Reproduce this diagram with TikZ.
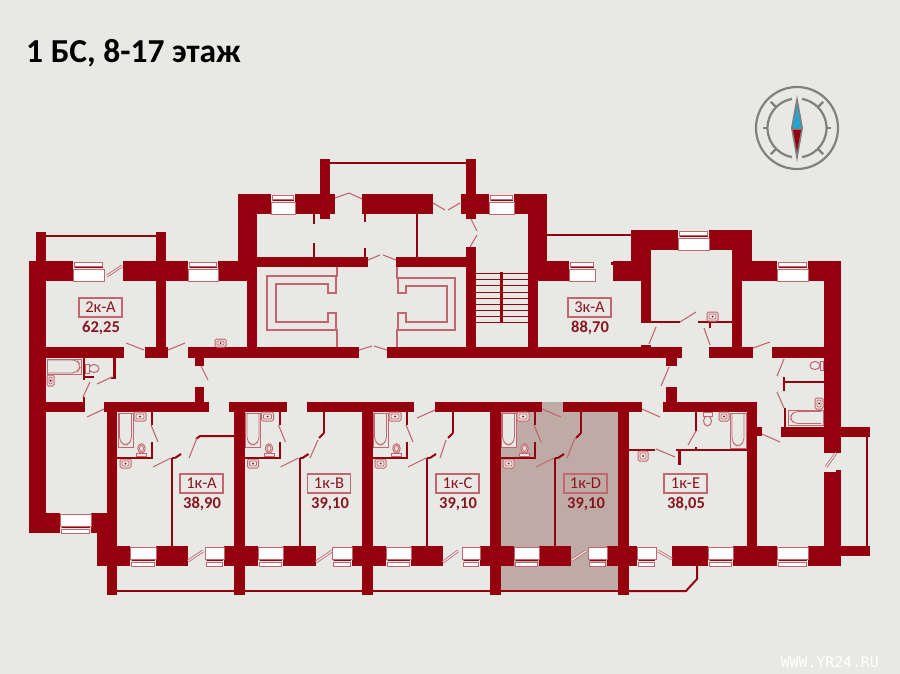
\documentclass[tikz,border=0pt]{standalone}
\usepackage{fontspec}
\setmainfont{Carlito}
\newfontfamily\wmfont{DejaVu Sans Mono}
\definecolor{bgc}{HTML}{E8E9E4}
\definecolor{wallc}{HTML}{95000F}
\definecolor{pinkc}{HTML}{C4666F}
\definecolor{tintc}{HTML}{BEABA5}
\definecolor{txtc}{HTML}{8A1520}
\definecolor{compg}{HTML}{808080}
\definecolor{compb}{HTML}{1FA5D5}
\tikzset{
  doorleaf/.style={draw=pinkc,line width=1.1pt},
  balcdoor/.style={draw=pinkc,line width=.8pt,double=bgc,double distance=1.2pt},
  fixt/.style={draw=pinkc,line width=1pt,fill=bgc},
  fixtd/.style={draw=wallc,line width=.9pt},
  aptlabel/.style={draw=pinkc,line width=1.2pt,minimum width=43pt,minimum height=19pt,inner sep=0pt,text=txtc,font=\fontsize{16.5}{17}\selectfont},
  aptarea/.style={text=txtc,inner sep=0pt,font=\fontsize{16.5}{17}\selectfont\bfseries},
}
\newcommand{\wl}[4]{\fill[wallc] (#1,#2) rectangle (#3,#4);}
\newcommand{\dor}[4]{\draw[doorleaf] (#1,#2) -- (#3,#4);}
\newcommand{\bdor}[4]{\draw[balcdoor] (#1,#2) -- (#3,#4);}
\newcommand{\wintop}[3]{%
  \draw[pinkc,line width=1pt,fill=white] ({#1+1.5},{#3+1.5}) rectangle ({#2-1.5},{#3+5.5});
  \draw[pinkc,line width=1pt,fill=white] (#1,{#3+8}) rectangle (#2,{#3+20});
  \draw[wallc,line width=1pt] ({#1+1.5},{#3+6.5}) -- ({#2-1.5},{#3+6.5});}
\newcommand{\winbot}[3]{%
  \draw[pinkc,line width=1pt,fill=white] (#1,{#3}) rectangle (#2,{#3+12});
  \draw[pinkc,line width=1pt,fill=white] ({#1+1.5},{#3+15}) rectangle ({#2-1.5},{#3+19});
  \draw[wallc,line width=1pt] ({#1+1.5},{#3+13.5}) -- ({#2-1.5},{#3+13.5});}
\newcommand{\sinkicon}[4]{%
  \draw[fixt,rounded corners=1.5pt] (#1,#2) rectangle (#3,#4);
  \draw[pinkc,line width=.8pt,rounded corners=1pt] ({#1+2},{#2+2}) rectangle ({#3-2},{#4-2});
  \fill[wallc] ({(#1+#3)/2},{(#2+#4)/2}) circle (1pt);}
\newcommand{\toiletv}[2]{% x centre, y top (cistern at bottom)
  \draw[fixt] (#1,{#2+5.5}) ellipse (3.7pt and 4.7pt);
  \draw[pinkc,line width=.8pt] (#1,{#2+5.5}) ellipse (2pt and 3pt);
  \draw[fixt] ({#1-5},{#2+10.5}) rectangle ({#1+5},{#2+13.5});}
\begin{document}
\begin{tikzpicture}[x=1pt,y=-1pt]
\useasboundingbox (0,0) rectangle (900,674);
\fill[bgc] (0,0) rectangle (900,674);
\node[anchor=west,inner sep=0pt,font=\fontsize{33.5}{34}\selectfont\bfseries,text=black] (title) at (26,53) {1 БС, 8-17 этаж};
\node[anchor=east,inner sep=0pt,text=white,font=\wmfont\fontsize{14.8}{15}\selectfont] (wm) at (879,662) {WWW.YR24.RU};
% compass
\draw[compg,line width=2.2pt] (797,128) circle (41);
\draw[compg,line width=2.2pt] (797,128) +(80:29.5) arc[start angle=80,end angle=-80,radius=29.5];
\draw[compg,line width=2.2pt] (797,128) +(100:29.5) arc[start angle=100,end angle=260,radius=29.5];
\foreach \a in {45,135,225,315} \draw[compg,line width=2.2pt] (797,128) +(\a:29.5) -- +(\a:37);
\draw[compg,line width=2.2pt] (763,128) -- (768,128) (826,128) -- (831,128);
\fill[compg] (797,95) -- (803,128) -- (797,162) -- (791,128) -- cycle;
\fill[compb] (797,106) -- (801,128) -- (793,128) -- cycle;
\fill[wallc] (797,152) -- (801,130) -- (793,130) -- cycle;
% highlighted flat
\fill[tintc] (501,402) rectangle (618,590);
% balcony rails
\wl{46}{235}{156}{237} \wl{330}{162}{466}{164} \wl{547}{234}{631}{236}
\wl{117}{590}{629}{592}
\wl{866}{437}{868}{546}
\draw[wallc,line width=2pt] (697,566) -- (697,579) -- (686,591) -- (629,591);
% upper walls
\wl{36}{232}{46}{261} \wl{156}{232}{166}{347} \wl{29}{261}{46}{533}
\wl{29}{261}{73}{281} \wl{123}{261}{188}{281} \wl{218}{261}{247}{281}
\wl{238}{194}{257}{281} \wl{247}{261}{257}{347}
\wl{238}{194}{271}{214} \wl{295}{194}{335}{214} \wl{362}{194}{433}{214}
\wl{461}{194}{489}{214} \wl{514}{194}{547}{214}
\wl{320}{159}{330}{219} \wl{466}{159}{476}{219}
\wl{528}{194}{547}{261} \wl{528}{261}{569}{281} \wl{528}{261}{538}{347}
\wl{257}{257}{368}{267} \wl{396}{257}{466}{267} \wl{466}{247}{476}{347}
\wl{416}{214}{418}{257}
\wl{313}{214}{315}{224} \wl{313}{243}{315}{257}
\wl{364}{214}{366}{222} \wl{364}{248}{366}{257}
% corridor top wall
\wl{46}{347}{124}{358} \wl{145}{347}{168}{358} \wl{188}{347}{359}{358}
\wl{387}{347}{682}{358} \wl{709}{347}{753}{358} \wl{772}{347}{824}{358}
\wl{195}{358}{204}{366} \wl{666}{358}{677}{366} \wl{641}{345}{651}{347}
% right upper
\wl{631}{230}{678}{250} \wl{709}{230}{752}{250}
\wl{631}{230}{651}{261} \wl{641}{250}{651}{323} \wl{613}{261}{641}{281} \wl{611}{262}{613}{265}
\wl{732}{230}{742}{358} \wl{732}{250}{752}{261} \wl{732}{261}{777}{281} \wl{808}{261}{841}{281}
\wl{824}{261}{841}{453} \wl{824}{472}{841}{546} \wl{836}{470}{841}{472}
\wl{651}{321}{680}{323} \wl{698}{321}{732}{323} \wl{709}{323}{711}{328}
\wl{781}{427}{870}{437} \wl{841}{546}{870}{556}
% lower corridor wall
\wl{46}{402}{85}{412} \wl{104}{402}{209}{412} \wl{229}{402}{287}{412}
\wl{307}{402}{414}{412} \wl{435}{402}{542}{412} \wl{563}{402}{642}{412} \wl{663}{402}{757}{412}
\wl{195}{387}{204}{402} \wl{666}{387}{677}{402}
\wl{83}{397}{85}{402}
% left bathroom
\wl{83}{358}{85}{380} \wl{85}{376}{94}{378} \wl{113}{358}{116}{379} \wl{111}{377}{116}{379}
\draw[fixt] (47,359) rectangle (81,374);
\draw[pinkc,line width=.8pt,rounded corners=5pt] (47,360) -- (77,360) -- (81,366) -- (77,373) -- (47,373);
\sinkicon{47}{375}{54}{386}
\draw[fixt] (94,368.5) ellipse (5pt and 4pt);
\draw[fixt] (85.5,364) rectangle (89,373);
% stems and lower structure
\wl{107}{412}{117}{595} \wl{234}{412}{245}{595} \wl{362}{412}{373}{595}
\wl{490}{412}{501}{595} \wl{618}{412}{629}{595} \wl{747}{412}{757}{547}
\wl{757}{427}{762}{436}
\wl{29}{513}{60}{533} \wl{91}{513}{107}{533} \wl{97}{533}{117}{566}
\foreach \a/\b in {97/130,156/188,224/258,283/316,352/386,411/443,480/514,539/571,607/637,672/708,733/777,808/841}
  \wl{\a}{546}{\b}{566}
% windows
\wintop{73}{104}{261} \wintop{188}{218}{261} \wintop{271}{295}{194} \wintop{489}{514}{194}
\wintop{569}{595}{261} \wintop{678}{709}{230} \wintop{777}{808}{261}
\winbot{60}{91}{514}
\foreach \a/\b in {130/156,258/283,386/411,514/539,205/224,332/352,462/480,588/607,637/656,708/733,777/808}
  \winbot{\a}{\b}{547};
% repeated bathroom units
\foreach \o in {0,127.5,255,383}{
\begin{scope}[shift={(\o,0)}]
  \draw[fixt] (118,413) rectangle (133,447);
  \draw[pinkc,line width=.8pt,rounded corners=4pt] (119.5,413) -- (119.5,441) -- (125.5,446) -- (131.5,441) -- (131.5,413);
  \sinkicon{134}{412}{146}{421}
  \sinkicon{120}{459}{131}{468}
  \toiletv{141.5}{443}
  \wl{117}{457}{153}{459} \wl{151}{442}{153}{459} \wl{151}{412}{153}{425}
  \dor{151}{425}{158}{442}
  \dor{153}{467}{171}{458}
  \wl{171}{458}{173}{546}
  \draw[wallc,line width=2pt] (172,458) -- (175,458);
  \draw[wallc,line width=2pt] (175,458) -- (181,454);
\end{scope}}
% right partitions of the flats
\draw[wallc,line width=2pt] (196,439) -- (200,436) -- (234,436);
\dor{197}{438}{189}{458}
\wl{323}{412}{325}{433} \draw[wallc,line width=2pt] (324,433) -- (319,438); \dor{318}{440}{310}{458}
\wl{452}{412}{454}{433} \draw[wallc,line width=2pt] (453,433) -- (448,438); \dor{446}{440}{440}{458}
\wl{580}{412}{582}{433} \draw[wallc,line width=2pt] (581,433) -- (576,438); \dor{575}{438}{567}{458}
% flat E
\wl{629}{449}{655}{451} \wl{676}{449}{747}{451} \wl{678}{449}{681}{465} \wl{695}{412}{697}{431} \wl{695}{447}{697}{449}
\dor{656}{449}{675}{457} \dor{696}{431}{688}{445}
\draw[fixt] (730,413) rectangle (746,448);
\draw[pinkc,line width=.8pt,rounded corners=4pt] (732,413) -- (732,442) -- (738,447) -- (744,442) -- (744,413);
\sinkicon{719}{412}{729}{421}
\sinkicon{638}{451}{648}{461}
\draw[fixt] (707.5,421) ellipse (4pt and 5pt);
\draw[fixt] (703,412) rectangle (712,416);
% right bathroom
\wl{783}{377}{785}{391} \wl{785}{381}{824}{383} \wl{784}{408}{786}{427}
\dor{784}{359}{777}{376} \dor{777}{392}{784}{408}
\draw[fixt] (788,410) rectangle (823,425);
\draw[pinkc,line width=.8pt,rounded corners=4pt] (821,411.5) -- (794,411.5) -- (789.5,417.5) -- (794,423.5) -- (821,423.5);
\sinkicon{815}{398}{823}{409}
\draw[fixt] (815,365.5) ellipse (5pt and 4pt);
\draw[fixt] (820,361) rectangle (823,370);
% sinks near corridor
\sinkicon{215}{339}{226}{347}
\sinkicon{707}{312}{718}{321}
% stairs
\foreach \y in {273,279,285,292,298,304,310,316,322}
  \draw[wallc,line width=.9pt] (476,\y) -- (528,\y);
\wl{500}{272}{503}{323}
% lift shafts
\draw[pinkc,line width=1.2pt] (337,267) -- (337,276) -- (267,276) -- (267,330) -- (337,330) -- (337,347);
\draw[pinkc,line width=1.2pt] (336,276) -- (336,293) -- (328,293) -- (328,284) -- (276,284) -- (276,322) -- (328,322) -- (328,313) -- (336,313) -- (336,330);
\draw[pinkc,line width=1.2pt] (397,267) -- (397,278) -- (455,278) -- (455,330) -- (397,330) -- (397,347);
\draw[pinkc,line width=1.2pt] (398,278) -- (398,293) -- (406,293) -- (406,286) -- (447,286) -- (447,322) -- (406,322) -- (406,313) -- (398,313) -- (398,330);
% doors
\dor{126}{343}{144}{350} \dor{168}{350}{185}{343}
\dor{201}{366}{208}{380}
\dor{335}{198}{349}{193} \dor{349}{193}{362}{199}
\dor{433}{203}{445}{210} \dor{448}{210}{460}{203}
\dor{471}{219}{477}{231} \dor{477}{235}{470}{247}
\dor{368}{260}{380}{255} \dor{383}{255}{396}{260}
\dor{359}{350}{372}{346} \dor{374}{346}{387}{350}
\dor{680}{322}{696}{312}
\dor{649}{344}{656}{327} \dor{669}{367}{661}{386}
\dor{704}{328}{710}{345} \dor{753}{348}{770}{342}
\dor{642}{409}{660}{417} \dor{762}{434}{780}{442}
\dor{112}{377}{97}{384} \dor{90}{382}{83}{397} \dor{87}{417}{104}{409}
\dor{417}{418}{435}{410} \dor{542}{409}{561}{417}
% balcony doors
\bdor{107}{276}{122}{266}
\bdor{188}{561}{203}{551} \bdor{316}{562}{332}{551} \bdor{443}{562}{458}{551} \bdor{572}{560}{586}{551}
\bdor{658}{551}{672}{559} \bdor{836}{453}{826}{467}
% labels
\node[aptlabel] (la) at (100.5,307.5) {2к-А};   \node[aptarea] (aa) at (101,328) {62,25};
\node[aptlabel] (lb) at (589.5,307.5) {3к-А};   \node[aptarea] (ab) at (590,328) {88,70};
\node[aptlabel] (lc) at (201.5,483.5) {1к-А};   \node[aptarea] (ac) at (202,504) {38,90};
\node[aptlabel] (ld) at (329,483.5) {1к-В};     \node[aptarea] (ad) at (330,504) {39,10};
\node[aptlabel] (le) at (457.5,483.5) {1к-С};   \node[aptarea] (ae) at (458,504) {39,10};
\node[aptlabel] (lf) at (585.5,483.5) {1к-D};   \node[aptarea] (af) at (586,504) {39,10};
\node[aptlabel] (lg) at (685.5,483.5) {1к-Е};   \node[aptarea] (ag) at (686,504) {38,05};
\end{tikzpicture}
\end{document}
